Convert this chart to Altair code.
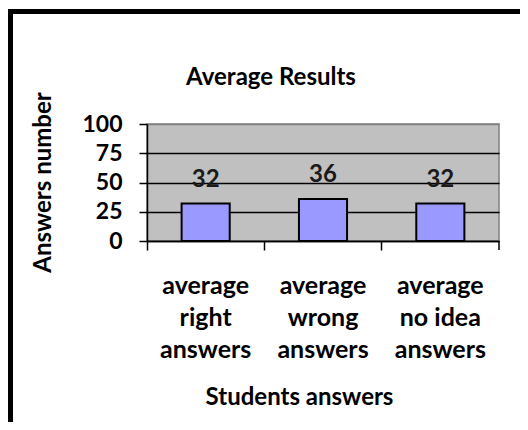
import altair as alt
import pandas as pd

categories = ["average\nright\nanswers", "average\nwrong\nanswers", "average\nno idea\nanswers"]
values = [32, 36, 32]
y_ticks = [0, 25, 50, 75, 100]

df = pd.DataFrame({"cat": categories, "val": values})

FONT = "Lato"

x_enc = alt.X(
    "cat:N",
    sort=categories,
    scale=alt.Scale(paddingInner=0, paddingOuter=0),
    axis=alt.Axis(
        title="Students answers",
        labelAngle=0,
        labelExpr="split(datum.label, '\\n')",
        labelLineHeight=32,
        labelBaseline="alphabetic",
        labelPadding=43,
        labelFontSize=25,
        labelFont=FONT,
        labelFontWeight="bold",
        labelColor="black",
        bandPosition=0,
        ticks=True,
        tickSize=9,
        tickColor="black",
        tickWidth=1.5,
        domainColor="black",
        domainWidth=1.5,
        titleFont=FONT,
        titleFontSize=24,
        titleFontWeight="bold",
        titleColor="black",
        titleX=152,
        titleY=163,
        titleBaseline="alphabetic",
        titleAlign="center",
    ),
)

y_enc = alt.Y(
    "val:Q",
    scale=alt.Scale(domain=[0, 100], nice=False),
    axis=alt.Axis(
        title="Answers number",
        values=y_ticks,
        labelOverlap=False,
        tickSize=8,
        tickColor="black",
        tickWidth=1.5,
        domainColor="black",
        domainWidth=1.5,
        labelPadding=17,
        labelFontSize=23,
        labelFont=FONT,
        labelFontWeight="bold",
        labelColor="black",
        labelBaseline="middle",
        grid=True,
        gridColor={"condition": {"test": "datum.value == 100", "value": "#808080"}, "value": "black"},
        gridWidth=1.5,
        titleFont=FONT,
        titleFontSize=24,
        titleFontWeight="bold",
        titleColor="black",
        titleX=-104,
        titleY=58,
        titleAngle=-90,
        titleAlign="center",
        titleBaseline="middle",
    ),
)

bars = alt.Chart(df).mark_bar(
    fill="#9999FF", stroke="black", strokeWidth=2, width=alt.RelativeBandSize(0.41)
).encode(x=x_enc, y=y_enc)

labels = alt.Chart(df).mark_text(
    font=FONT, fontSize=24, fontWeight="bold", color="#1a1a1a", baseline="alphabetic", dy=-17
).encode(x=x_enc, y=y_enc, text="val:Q")

deco = alt.Data(values=[{"k": 1}])
left_border = alt.Chart(deco).mark_rule(color="black", strokeWidth=5).encode(
    x=alt.value(-136.5), y=alt.value(-115), y2=alt.value(320)
)
top_border = alt.Chart(deco).mark_rule(color="black", strokeWidth=5).encode(
    x=alt.value(-139), x2=alt.value(380), y=alt.value(-112.5)
)
end_tick = alt.Chart(deco).mark_rule(color="black", strokeWidth=1.5).encode(
    x=alt.value(352), y=alt.value(117), y2=alt.value(126)
)

chart = alt.layer(bars, labels, left_border, top_border, end_tick).properties(
    width=352,
    height=117,
    autosize=alt.AutoSizeParams(type="none"),
    padding={"left": 139, "top": 116, "right": 21, "bottom": 181},
    title=alt.TitleParams(
        "Average Results", font=FONT, fontSize=24, fontWeight="bold", color="black",
        anchor="middle", dx=-52, offset=-102, baseline="alphabetic",
    ),
).configure_view(fill="#C0C0C0", stroke="#808080", strokeWidth=1.5)

chart.save("out.html", embed_options={"renderer": "svg", "actions": False})
